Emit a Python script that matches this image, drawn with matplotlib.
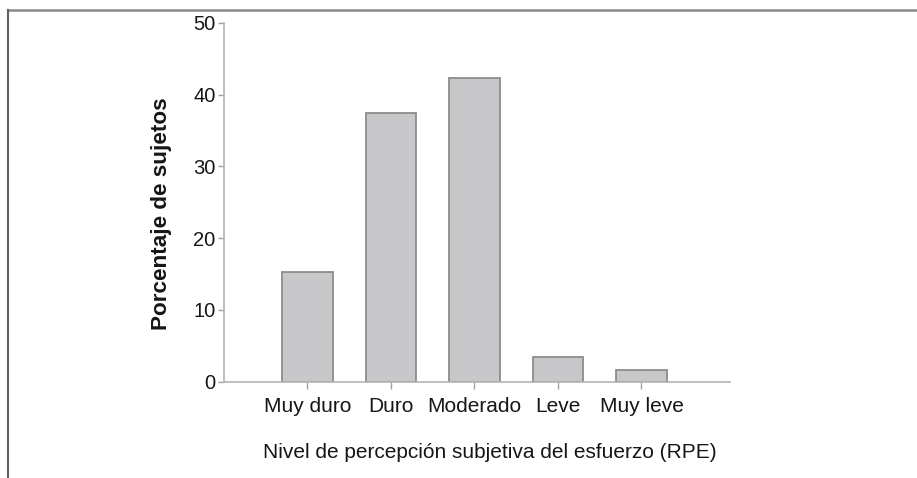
import matplotlib
matplotlib.use('Agg')
import matplotlib.pyplot as plt
from matplotlib.lines import Line2D

categorias = ['Muy duro', 'Duro', 'Moderado', 'Leve', 'Muy leve']
porcentajes = [15.3, 37.4, 42.3, 3.4, 1.6]
yticks = [0, 10, 20, 30, 40, 50]

plt.rcParams['font.family'] = ['Liberation Sans', 'DejaVu Sans']

fig = plt.figure(figsize=(9.17, 4.78), dpi=100)
ax = fig.add_axes([224/917, 96.5/478, 506/917, 358.5/478])

pos = list(range(1, len(categorias) + 1))
ax.bar(pos, porcentajes, width=0.61, color='#c8c8ca', edgecolor='#8c8c8c', linewidth=1.3)

ax.set_xlim(0, 6.06)
ax.set_ylim(0, 50)
ax.set_xticks(pos)
ax.set_xticklabels(categorias, fontsize=15)
ax.set_yticks(yticks)

for s in ['top', 'right']:
    ax.spines[s].set_visible(False)
for s in ['left', 'bottom']:
    ax.spines[s].set_color('#b4b4b4')
    ax.spines[s].set_linewidth(1.2)

ax.tick_params(axis='both', colors='#a0a0a0', labelcolor='#161616', width=1.0)
ax.tick_params(axis='y', length=4, pad=2, labelsize=14.5)
ax.tick_params(axis='x', length=5, pad=6)

fig.text(162/917, 1 - 214/478, 'Porcentaje de sujetos', rotation=90, fontsize=16.2,
         fontweight='bold', color='#161616', ha='center', va='center')
fig.text(490/917, 1 - 452/478, 'Nivel de percepción subjetiva del esfuerzo (RPE)',
         fontsize=15, color='#161616', ha='center', va='center')

# marco del recuadro (solo arriba e izquierda visibles)
fig.add_artist(Line2D([8/917, 1.0], [1 - 10/478, 1 - 10/478], transform=fig.transFigure,
                      color='#8a8a8a', linewidth=1.8))
fig.add_artist(Line2D([8/917, 8/917], [0.0, 1 - 10/478], transform=fig.transFigure,
                      color='#606060', linewidth=1.5))

fig.savefig('out.png', dpi=100)
